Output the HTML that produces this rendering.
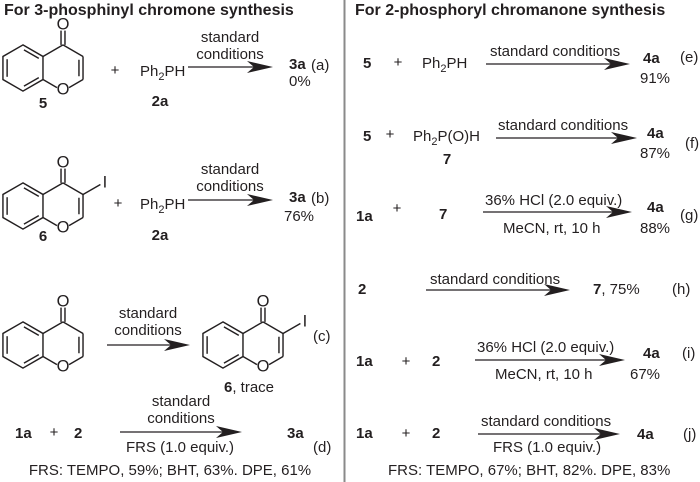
<!DOCTYPE html>
<html><head><meta charset="utf-8"><style>
body{margin:0;background:#fff;}
svg{display:block;font-family:"Liberation Sans",sans-serif;}
text{fill:#231f20;font-size:15px;}
.b{font-weight:bold;}
.t{font-size:16px;font-weight:bold;}
</style></head><body>
<svg width="700" height="482" viewBox="0 0 700 482" xmlns="http://www.w3.org/2000/svg">
<defs>
<g id="chr" stroke="#231f20" stroke-width="1.3" fill="none">
 <polygon points="-36.4,-21 -18.2,-10.5 -18.2,10.5 -36.4,21 -54.6,10.5 -54.6,-10.5"/>
 <line x1="-50.8" y1="-8" x2="-50.8" y2="8"/>
 <line x1="-35.5" y1="-16.5" x2="-22" y2="-8.7"/>
 <line x1="-35.5" y1="16.5" x2="-22" y2="8.7"/>
 <line x1="-18.2" y1="-10.5" x2="0" y2="-21"/>
 <line x1="0" y1="-21" x2="18.2" y2="-10.5"/>
 <line x1="18.2" y1="-10.5" x2="18.2" y2="10.5"/>
 <line x1="14.5" y1="-7.5" x2="14.5" y2="7.5"/>
 <line x1="18.2" y1="10.5" x2="5.5" y2="17.8"/>
 <line x1="-18.2" y1="10.5" x2="-5.5" y2="17.8"/>
 <line x1="-1.8" y1="-21" x2="-1.8" y2="-34"/>
 <line x1="1.8" y1="-21" x2="1.8" y2="-34"/>
</g>
<g id="chrO">
 <use href="#chr"/>
 <text x="0" y="-35" text-anchor="middle" style="font-size:15px">O</text>
 <text x="0" y="24" text-anchor="middle" style="font-size:15px">O</text>
</g>
<g id="chrI">
 <use href="#chrO"/>
 <line x1="18.2" y1="-10.5" x2="34" y2="-19.5" stroke="#231f20" stroke-width="1.3"/>
 <text x="36" y="-17" style="font-size:15px">I</text>
</g>
</defs>
<line x1="344.5" y1="0" x2="344.5" y2="482" stroke="#8a8a8a" stroke-width="2"/>

<g stroke="#231f20" stroke-width="1.3" fill="#231f20">
 <line x1="188" y1="67" x2="255" y2="67"/><path d="M273,67 L247,61 L254,67 L247,73 Z" stroke="none"/>
 <line x1="188" y1="200" x2="255" y2="200"/><path d="M273,200 L247,194 L254,200 L247,206 Z" stroke="none"/>
 <line x1="107" y1="345" x2="172" y2="345"/><path d="M190,345 L164,339 L171,345 L164,351 Z" stroke="none"/>
 <line x1="120" y1="432" x2="224" y2="432"/><path d="M242,432 L216,426 L223,432 L216,438 Z" stroke="none"/>
 <line x1="486" y1="64" x2="612" y2="64"/><path d="M630,64 L604,58 L611,64 L604,70 Z" stroke="none"/>
 <line x1="496" y1="138" x2="619" y2="138"/><path d="M637,138 L611,132 L618,138 L611,144 Z" stroke="none"/>
 <line x1="483" y1="212" x2="614" y2="212"/><path d="M632,212 L606,206 L613,212 L606,218 Z" stroke="none"/>
 <line x1="426" y1="290" x2="552" y2="290"/><path d="M570,290 L544,284 L551,290 L544,296 Z" stroke="none"/>
 <line x1="475" y1="360" x2="607" y2="360"/><path d="M625,360 L599,354 L606,360 L599,366 Z" stroke="none"/>
 <line x1="478" y1="434" x2="602" y2="434"/><path d="M620,434 L594,428 L601,434 L594,440 Z" stroke="none"/>
</g>

<use href="#chrO" transform="translate(63,68) scale(1.1)"/>
<use href="#chrI" transform="translate(63,206) scale(1.1)"/>
<use href="#chrO" transform="translate(63,345) scale(1.1)"/>
<use href="#chrI" transform="translate(263,345) scale(1.1)"/>

<text x="4" y="15" class="t">For 3-phosphinyl chromone synthesis</text>
<text x="355" y="15" class="t">For 2-phosphoryl chromanone synthesis</text>

<text x="43" y="108" class="b" text-anchor="middle">5</text>
<text x="115" y="75" text-anchor="middle">+</text>
<text x="140" y="76">Ph<tspan dy="4" style="font-size:11px">2</tspan><tspan dy="-4">PH</tspan></text>
<text x="160" y="106" class="b" text-anchor="middle">2a</text>
<text x="230" y="42" text-anchor="middle">standard</text>
<text x="230" y="59" text-anchor="middle">conditions</text>
<text x="289" y="69" class="b">3a</text><text x="311" y="70">(a)</text>
<text x="289" y="86">0%</text>

<text x="43" y="241" class="b" text-anchor="middle">6</text>
<text x="118" y="208" text-anchor="middle">+</text>
<text x="140" y="209">Ph<tspan dy="4" style="font-size:11px">2</tspan><tspan dy="-4">PH</tspan></text>
<text x="160" y="240" class="b" text-anchor="middle">2a</text>
<text x="230" y="174" text-anchor="middle">standard</text>
<text x="230" y="191" text-anchor="middle">conditions</text>
<text x="289" y="202" class="b">3a</text><text x="311" y="203">(b)</text>
<text x="284" y="221">76%</text>

<text x="148" y="318" text-anchor="middle">standard</text>
<text x="148" y="335" text-anchor="middle">conditions</text>
<text x="224" y="392"><tspan class="b">6</tspan>, trace</text>
<text x="313" y="341">(c)</text>

<text x="15" y="438" class="b">1a</text>
<text x="54" y="437" text-anchor="middle">+</text>
<text x="74" y="438" class="b">2</text>
<text x="181" y="406" text-anchor="middle">standard</text>
<text x="181" y="423" text-anchor="middle">conditions</text>
<text x="180" y="452" text-anchor="middle">FRS (1.0 equiv.)</text>
<text x="287" y="438" class="b">3a</text>
<text x="313" y="452">(d)</text>
<text x="170" y="475" text-anchor="middle">FRS: TEMPO, 59%; BHT, 63%. DPE, 61%</text>

<text x="363" y="68" class="b">5</text>
<text x="398" y="67" text-anchor="middle">+</text>
<text x="422" y="68">Ph<tspan dy="4" style="font-size:11px">2</tspan><tspan dy="-4">PH</tspan></text>
<text x="490" y="56">standard conditions</text>
<text x="643" y="63" class="b">4a</text>
<text x="640" y="83">91%</text>
<text x="680" y="62">(e)</text>

<text x="363" y="141" class="b">5</text>
<text x="390" y="139" text-anchor="middle">+</text>
<text x="413" y="141">Ph<tspan dy="4" style="font-size:11px">2</tspan><tspan dy="-4">P(O)H</tspan></text>
<text x="447" y="164" class="b" text-anchor="middle">7</text>
<text x="498" y="130">standard conditions</text>
<text x="647" y="138" class="b">4a</text>
<text x="640" y="158">87%</text>
<text x="685" y="148">(f)</text>

<text x="356" y="221" class="b">1a</text>
<text x="397" y="213" text-anchor="middle">+</text>
<text x="439" y="219" class="b">7</text>
<text x="485" y="205">36% HCl (2.0 equiv.)</text>
<text x="503" y="233">MeCN, rt, 10 h</text>
<text x="647" y="212" class="b">4a</text>
<text x="640" y="233">88%</text>
<text x="680" y="220">(g)</text>

<text x="358" y="294" class="b">2</text>
<text x="430" y="284">standard conditions</text>
<text x="593" y="294"><tspan class="b">7</tspan>, 75%</text>
<text x="672" y="294">(h)</text>

<text x="356" y="366" class="b">1a</text>
<text x="406" y="366" text-anchor="middle">+</text>
<text x="432" y="366" class="b">2</text>
<text x="477" y="352">36% HCl (2.0 equiv.)</text>
<text x="495" y="379">MeCN, rt, 10 h</text>
<text x="643" y="358" class="b">4a</text>
<text x="630" y="379">67%</text>
<text x="682" y="358">(i)</text>

<text x="356" y="438" class="b">1a</text>
<text x="406" y="438" text-anchor="middle">+</text>
<text x="432" y="438" class="b">2</text>
<text x="481" y="426">standard conditions</text>
<text x="493" y="452">FRS (1.0 equiv.)</text>
<text x="637" y="439" class="b">4a</text>
<text x="683" y="439">(j)</text>
<text x="388" y="475">FRS: TEMPO, 67%; BHT, 82%. DPE, 83%</text>
</svg>
</body></html>
